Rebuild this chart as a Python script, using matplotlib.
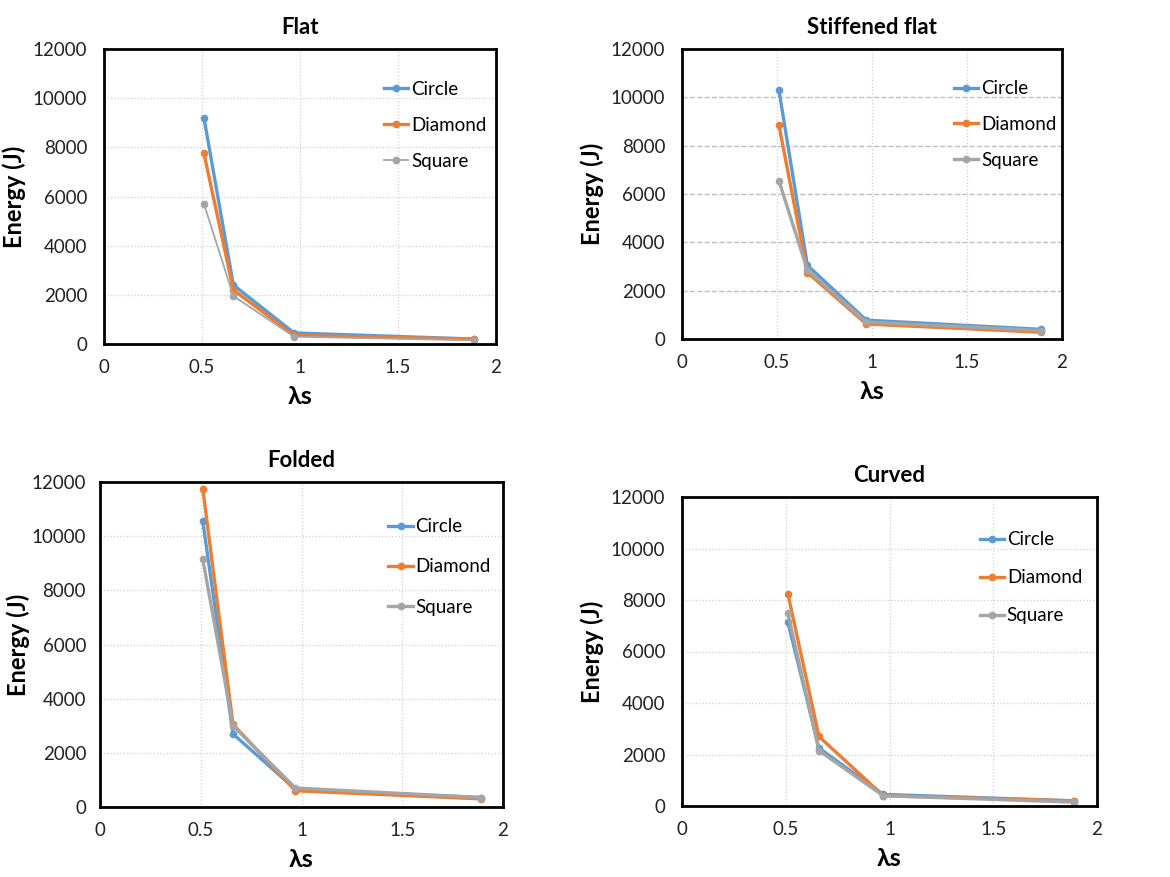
import matplotlib
matplotlib.use("Agg")
import matplotlib.pyplot as plt

plt.rcParams['font.family'] = ['Lato', 'DejaVu Sans']

# lambda_s values shared by all panels
lam = [0.51, 0.66, 0.97, 1.89]
series_names = ["Circle", "Diamond", "Square"]

titles = ["Flat", "Stiffened flat", "Folded", "Curved"]

flat_circle = [9200, 2400, 450, 200]
flat_diamond = [7750, 2200, 350, 200]
flat_square = [5700, 1950, 300, 150]

stiff_circle = [10300, 3050, 780, 400]
stiff_diamond = [8850, 2750, 620, 280]
stiff_square = [6550, 2850, 700, 350]

folded_circle = [10550, 2700, 650, 350]
folded_diamond = [11750, 3050, 600, 300]
folded_square = [9150, 3000, 700, 350]

curved_circle = [7150, 2250, 450, 200]
curved_diamond = [8250, 2700, 400, 200]
curved_square = [7500, 2150, 400, 150]

panel_data = [
    [flat_circle, flat_diamond, flat_square],
    [stiff_circle, stiff_diamond, stiff_square],
    [folded_circle, folded_diamond, folded_square],
    [curved_circle, curved_diamond, curved_square],
]

colors = ["#5B9BD5", "#ED7D31", "#A5A5A5"]

W, H = 1170, 877
# axes boxes in pixels: left, top, right, bottom
boxes = [(104, 49, 496, 344), (682, 49, 1062, 339),
         (100, 482, 503, 807), (682, 497, 1097, 806)]
square_lw = [1.3, 2.4, 2.4, 2.4]
legend_anchor = [(0.695, 0.918), (0.696, 0.918), (0.697, 0.912), (0.699, 0.914)]
legend_spacing = [1.02, 1.0, 1.24, 1.13]
ylabel_pad = [5, 5, 1, 5]
ytick_pad = [12, 12, 10, 12]

fig = plt.figure(figsize=(W / 100, H / 100), dpi=100)

for i, (l, t, r, b) in enumerate(boxes):
    ax = fig.add_axes([l / W, 1 - b / H, (r - l) / W, (b - t) / H])
    lws = [2.4, 2.4, square_lw[i]]
    for name, vals, c, lw in zip(series_names, panel_data[i], colors, lws):
        ax.plot(lam, vals, color=c, lw=lw, marker='o', ms=4.5, label=name)
    ax.set_xlim(0, 2)
    ax.set_ylim(0, 12000)
    ax.set_xticks([0, 0.5, 1, 1.5, 2])
    ax.set_xticklabels(["0", "0.5", "1", "1.5", "2"])
    ax.set_yticks(range(0, 12001, 2000))
    ax.tick_params(labelsize=13.5, length=0, colors='#222222')
    ax.tick_params(axis='y', pad=ytick_pad[i])
    ax.tick_params(axis='x', pad=11)
    ax.grid(axis='x', color='#d0d0d0', ls=':', lw=0.9)
    if i == 1:
        ax.grid(axis='y', color='#c0c0c0', ls='--', lw=1.0)
    else:
        ax.grid(axis='y', color='#d0d0d0', ls=':', lw=0.9)
    ax.set_axisbelow(True)
    for s in ax.spines.values():
        s.set_linewidth(2.0)
        s.set_color('black')
    ax.set_title(titles[i], fontsize=16, fontweight='bold', pad=11)
    ax.set_xlabel("λs", fontsize=18, fontweight='bold', labelpad=6)
    ax.set_ylabel("Energy (J)", fontsize=17, fontweight='bold', labelpad=ylabel_pad[i])
    ax.legend(loc='upper left', bbox_to_anchor=legend_anchor[i], frameon=False,
              fontsize=13.5, handlelength=1.3, handletextpad=0.15,
              labelspacing=legend_spacing[i], borderaxespad=0)

fig.savefig("out.png", dpi=100)
